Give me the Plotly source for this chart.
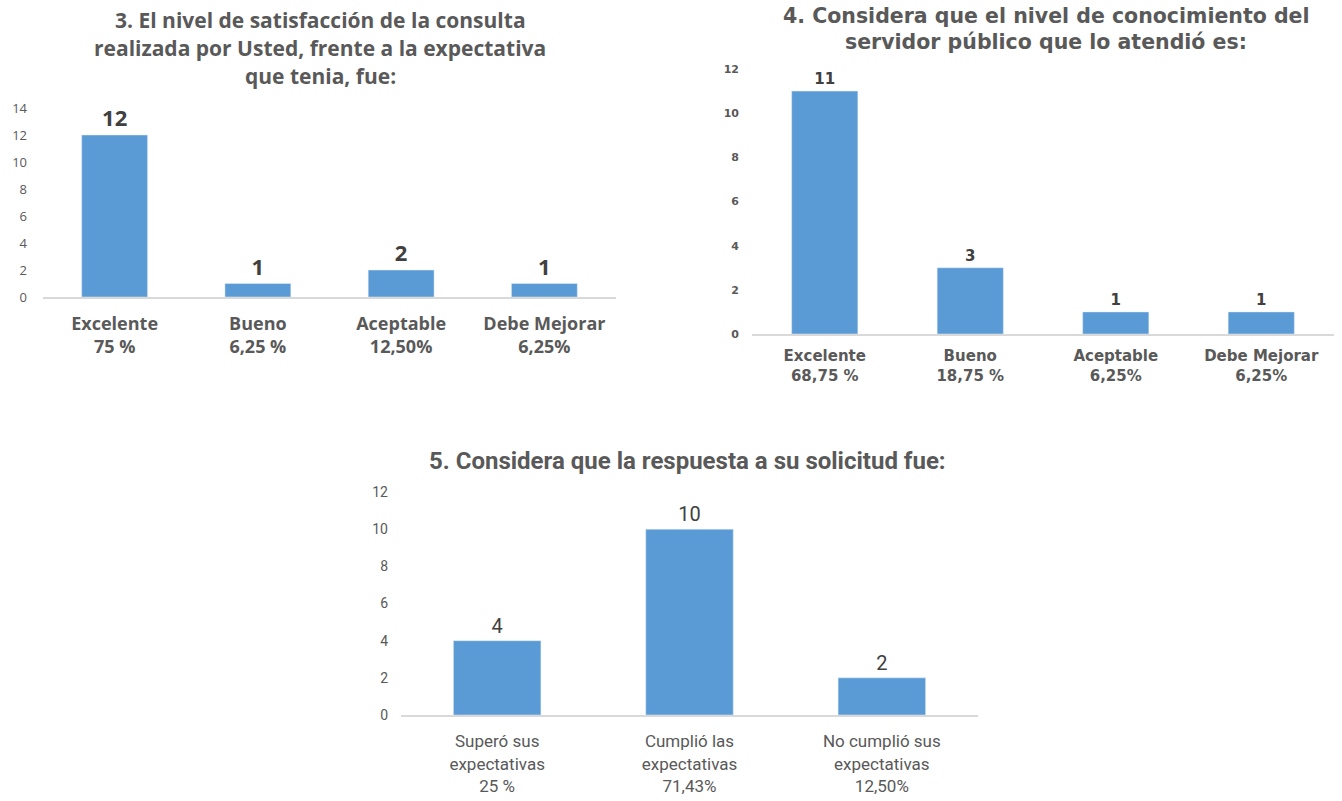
import plotly.graph_objects as go

W, H = 1342, 801

# --- data ---
cat_q3 = ["Excelente<br>75 %", "Bueno<br>6,25 %", "Aceptable<br>12,50%", "Debe Mejorar<br>6,25%"]
val_q3 = [12, 1, 2, 1]

cat_q4 = ["Excelente<br>68,75 %", "Bueno<br>18,75 %", "Aceptable<br>6,25%", "Debe Mejorar<br>6,25%"]
val_q4 = [11, 3, 1, 1]

cat_q5 = ["Superó sus<br>expectativas<br>25 %", "Cumplió las<br>expectativas<br>71,43%",
          "No cumplió sus<br>expectativas<br>12,50%"]
val_q5 = [4, 10, 2]

title_q3 = ["3. El nivel de satisfacción de la consulta",
            "realizada por Usted, frente a la expectativa",
            "que tenia, fue:"]
title_q4 = ["4. Considera que el nivel de conocimiento del",
            "servidor público que lo atendió es:"]
title_q5 = ["5. Considera que la respuesta a su solicitud fue:"]

BAR = "#5B9BD5"
GREY = "#595959"
DARK = "#404040"
AXIS = "#D9D9D9"
F1 = "'Open Sans', sans-serif"
F2 = "'DejaVu Sans', sans-serif"
F3 = "Roboto, sans-serif"


def px_x(a, b):
    return [a / W, b / W]


def px_y(bottom, top):
    return [1 - bottom / H, 1 - top / H]


fig = go.Figure()

fig.add_trace(go.Bar(x=cat_q3, y=val_q3, text=val_q3, textposition="outside",
                     marker_color=BAR, width=0.46, cliponaxis=False,
                     textfont=dict(size=22, color=DARK, family=F1, weight="bold"),
                     xaxis="x", yaxis="y"))
fig.add_trace(go.Bar(x=cat_q4, y=val_q4, text=val_q4, textposition="outside",
                     marker_color=BAR, width=0.455, cliponaxis=False,
                     textfont=dict(size=15, color=DARK, family=F2, weight="bold"),
                     xaxis="x2", yaxis="y2"))
fig.add_trace(go.Bar(x=cat_q5, y=val_q5, text=val_q5, textposition="outside",
                     marker_color=BAR, width=0.455, cliponaxis=False,
                     textfont=dict(size=20, color=DARK, family=F3),
                     xaxis="x3", yaxis="y3"))

xcommon = dict(showline=True, linecolor=AXIS, linewidth=2, showgrid=False,
               ticks="", zeroline=False, fixedrange=True, automargin=False)
ycommon = dict(showline=False, showgrid=False, zeroline=False, ticks="",
               fixedrange=True, automargin=False)

fig.update_layout(
    width=W, height=H,
    margin=dict(l=0, r=0, t=0, b=0),
    paper_bgcolor="white", plot_bgcolor="white",
    showlegend=False,
    font=dict(family=F1, color=GREY),
    xaxis=dict(domain=px_x(43, 616), anchor="y", ticklabelstandoff=9,
               tickfont=dict(size=18, color=GREY, family=F1, weight="bold"), **xcommon),
    yaxis=dict(domain=px_y(297, 108), anchor="x", range=[0, 14], dtick=2,
               ticklabelstandoff=15,
               tickfont=dict(size=13, color=GREY, family=F1), **ycommon),
    xaxis2=dict(domain=px_x(752, 1334), anchor="y2", ticklabelstandoff=7,
                tickfont=dict(size=15, color=GREY, family=F2, weight="bold"), **xcommon),
    yaxis2=dict(domain=px_y(334, 69), anchor="x2", range=[0, 12], dtick=2,
                ticklabelstandoff=12,
                tickfont=dict(size=11, color=GREY, family=F2, weight="bold"), **ycommon),
    xaxis3=dict(domain=px_x(401, 978), anchor="y3", ticklabelstandoff=10,
                tickfont=dict(size=17, color=GREY, family=F3), **xcommon),
    yaxis3=dict(domain=px_y(715, 492), anchor="x3", range=[0, 12], dtick=2,
                ticklabelstandoff=12,
                tickfont=dict(size=14, color=GREY, family=F3), **ycommon),
)

annotations = []


def add_title(lines, cx, ys, size, family, weight):
    for line, y in zip(lines, ys):
        annotations.append(dict(text=line, x=cx / W, y=1 - y / H, xref="paper", yref="paper",
                                xanchor="center", yanchor="middle", showarrow=False,
                                font=dict(size=size, color=GREY, family=family, weight=weight)))


add_title(title_q3, 320, [20, 48, 76], 21, F1, "bold")
add_title(title_q4, 1046, [16, 42], 20.5, F2, "bold")
add_title(title_q5, 687, [461], 24, F3, "bold")

fig.update_layout(annotations=annotations)

fig.write_html("out.html")
